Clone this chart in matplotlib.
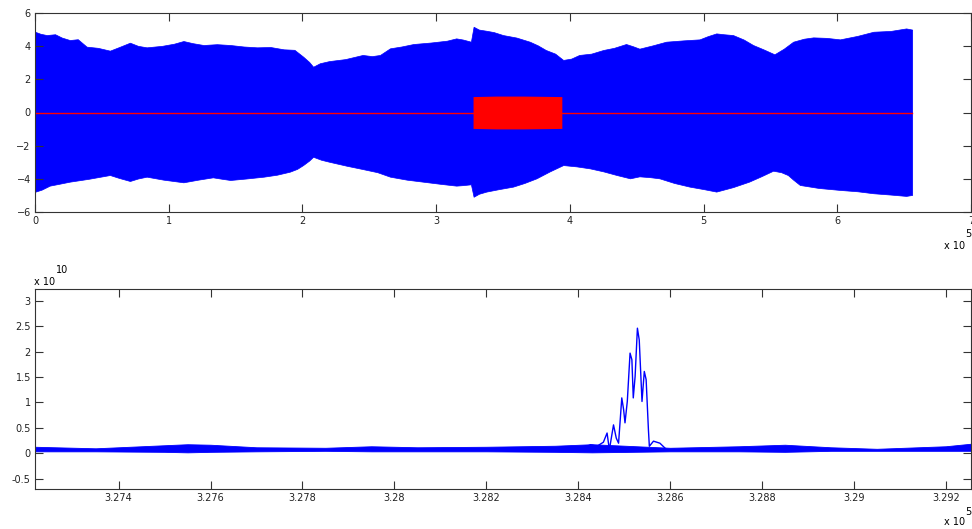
import numpy as np
import matplotlib.pyplot as plt
from matplotlib.ticker import FuncFormatter

plt.rcParams.update({"font.family": "DejaVu Sans", "font.size": 7})

# ---- top panel: envelope of the full recording (sample index, amplitude) ----
upper_x = [0, 4000, 8700, 15000, 20000, 26000, 32000, 38600, 47000, 56000,
           63000, 71000, 77000, 83500, 95000, 104000, 111000, 118000, 126000,
           136000, 146000, 156000, 166000, 176000, 186000, 194000, 200500,
           205000, 208000, 213000, 220000, 232000, 245000, 252000, 258000,
           265500, 274000, 283000, 296000, 308000, 315000, 320000, 326000,
           328000, 332000, 337500, 343000, 350000, 360000, 370000, 376000,
           382000, 389000, 395000, 401000, 407000, 416000, 425000, 433000,
           442000, 447000, 452000, 462000, 472000, 485000, 497000, 503000,
           509500, 515000, 522000, 530000, 537000, 545000, 553000, 560000,
           567000, 575000, 582000, 592000, 602000, 615000, 627000, 640000,
           651500, 656000]
upper_y = [4.87, 4.75, 4.67, 4.72, 4.52, 4.37, 4.42, 3.97, 3.90, 3.73,
           3.95, 4.21, 4.02, 3.93, 4.02, 4.15, 4.31, 4.18, 4.07,
           4.12, 4.07, 3.98, 3.93, 3.95, 3.81, 3.78, 3.37,
           3.05, 2.76, 2.97, 3.10, 3.22, 3.47, 3.40, 3.47,
           3.87, 3.98, 4.13, 4.22, 4.33, 4.47, 4.40, 4.27,
           5.17, 5.00, 4.93, 4.85, 4.67, 4.52, 4.27, 4.05,
           3.77, 3.55, 3.17, 3.25, 3.47, 3.55, 3.77, 3.90,
           4.13, 4.00, 3.85, 4.05, 4.27, 4.35, 4.41, 4.60,
           4.77, 4.72, 4.67, 4.40, 4.07, 3.80, 3.51, 3.85,
           4.27, 4.45, 4.53, 4.50, 4.41, 4.62, 4.87, 4.92,
           5.07, 5.00]

lower_x = [0, 5000, 11000, 18000, 26000, 40000, 56000, 63000, 71000, 77000,
           83500, 96000, 111000, 122000, 133000, 140000, 146000, 158000,
           171000, 181000, 190500, 196000, 200500, 205000, 208000, 214000,
           220000, 233000, 245000, 256000, 265500, 278000, 290000, 303000,
           315000, 320000, 326000, 328000, 332000, 337500, 347000, 357500,
           366000, 375000, 385000, 395000, 405000, 415000, 425000, 435000,
           445000, 452000, 460000, 467000, 478000, 489500, 500000, 509500,
           522000, 534000, 543000, 552000, 558000, 563000, 567000, 572000,
           586000, 602000, 615000, 627000, 640000, 651500, 656000]
lower_y = [-4.78, -4.65, -4.41, -4.30, -4.17, -4.00, -3.77, -3.95, -4.13,
           -3.98, -3.87, -4.05, -4.21, -4.05, -3.91, -4.00, -4.07, -3.98,
           -3.87, -3.75, -3.57, -3.40, -3.17, -2.90, -2.67, -2.85,
           -2.97, -3.21, -3.41, -3.60, -3.87, -4.05, -4.17, -4.30,
           -4.41, -4.38, -4.33, -5.08, -4.90, -4.77, -4.62, -4.47,
           -4.25, -3.97, -3.55, -3.17, -3.25, -3.37, -3.55, -3.77,
           -3.97, -3.85, -3.90, -3.97, -4.25, -4.47, -4.62, -4.77,
           -4.50, -4.17, -3.85, -3.51, -3.60, -3.77, -4.05, -4.37,
           -4.55, -4.67, -4.75, -4.87, -4.95, -5.03, -4.97]

# red trace: zero everywhere, with a burst of unit amplitude
red_line_x = [0, 656000]
red_line_y = [0, 0]
burst_x = [327600, 345000, 365000, 394000]
burst_amp = [0.96, 0.99, 0.99, 0.96]

# ---- bottom panel: zoomed detail around the burst ----
band_x = [327218, 327350, 327500, 327550, 327600, 327700, 327850, 327950,
          328050, 328200, 328350, 328430, 328600, 328750, 328850, 328950,
          329050, 329200, 329255]
band_lo = [0.04, 0.04, 0.03, 0.02, 0.03, 0.04, 0.05, 0.04,
           0.04, 0.04, 0.03, 0.02, 0.04, 0.04, 0.03, 0.05,
           0.05, 0.05, 0.05]
band_hi = [0.13, 0.10, 0.16, 0.18, 0.17, 0.12, 0.11, 0.14,
           0.12, 0.13, 0.15, 0.18, 0.11, 0.14, 0.17, 0.12,
           0.09, 0.14, 0.19]

peak_x = [328410, 328427, 328441, 328455, 328463, 328468, 328477, 328483,
          328488, 328495, 328499, 328502, 328507, 328513, 328517, 328520,
          328524, 328529, 328533, 328539, 328544, 328548, 328553, 328555,
          328564, 328578, 328593, 328610]
peak_y = [0.10, 0.17, 0.14, 0.22, 0.40, 0.07, 0.56, 0.30,
          0.20, 1.09, 0.86, 0.60, 1.02, 1.97, 1.84, 1.09,
          1.51, 2.46, 2.23, 1.02, 1.61, 1.45, 0.46, 0.14,
          0.24, 0.20, 0.07, 0.08]

scale = 1e10

fig = plt.figure(figsize=(9.72, 5.29), dpi=100)
ax1 = fig.add_axes([35 / 972, 1 - 212 / 529, 936 / 972, 199 / 529])
ax2 = fig.add_axes([35 / 972, 1 - 489 / 529, 936 / 972, 200 / 529])

ax1.fill_between(upper_x, upper_y, 0, color="blue", linewidth=0.5, edgecolor="blue")
ax1.fill_between(lower_x, lower_y, 0, color="blue", linewidth=0.5, edgecolor="blue")
ax1.plot(red_line_x, red_line_y, color="red", linewidth=1.0)
ax1.fill_between(burst_x, burst_amp, [-a for a in burst_amp], color="red", linewidth=0)
ax1.set_xlim(0, 700000)
ax1.set_ylim(-6, 6)
ax1.set_xticks(np.arange(0, 700001, 100000))
ax1.set_yticks(np.arange(-6, 7, 2))

ax2.fill_between(band_x, np.array(band_lo) * scale, np.array(band_hi) * scale,
                 color="blue", linewidth=0.6, edgecolor="blue")
ax2.plot(peak_x, np.array(peak_y) * scale, color="blue", linewidth=1.0)
ax2.set_xlim(327218, 329255)
ax2.set_ylim(-0.7 * scale, 3.23 * scale)
ax2.set_xticks(np.arange(327400, 329250, 200))
ax2.set_yticks(np.arange(-0.5, 3.01, 0.5) * scale)

ax1.xaxis.set_major_formatter(FuncFormatter(lambda v, p: f"{v / 1e5:g}"))
ax2.xaxis.set_major_formatter(FuncFormatter(lambda v, p: f"{v / 1e5:g}"))
ax2.yaxis.set_major_formatter(FuncFormatter(lambda v, p: f"{v / scale:g}"))

for ax in (ax1, ax2):
    ax.tick_params(direction="in", length=6, width=0.8, top=True, right=True,
                   colors="#333333", labelcolor="#222222", pad=3)
    for spine in ax.spines.values():
        spine.set_color("#333333")
        spine.set_linewidth(0.8)

# MATLAB-style exponent labels
fig.text(965 / 972, 1 - 234 / 529, "5", ha="left", va="center", fontsize=7)
fig.text(944 / 972, 1 - 246 / 529, "x 10", ha="left", va="center", fontsize=7)
fig.text(965 / 972, 1 - 512 / 529, "5", ha="left", va="center", fontsize=7)
fig.text(944 / 972, 1 - 522 / 529, "x 10", ha="left", va="center", fontsize=7)
fig.text(34 / 972, 1 - 282 / 529, "x 10", ha="left", va="center", fontsize=7)
fig.text(56 / 972, 1 - 270 / 529, "10", ha="left", va="center", fontsize=7)

fig.savefig("out.png", dpi=100)
